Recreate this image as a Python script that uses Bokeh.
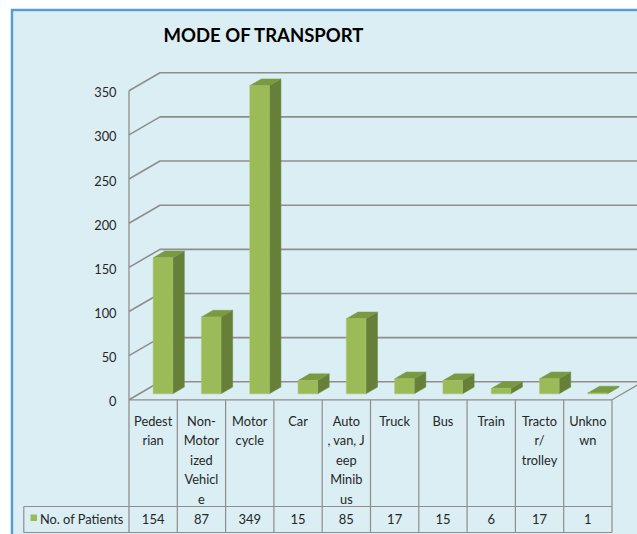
from bokeh.plotting import figure
from bokeh.models import Range1d
from bokeh.embed import file_html
from bokeh.resources import INLINE
from bokeh.core.properties import value

# ---- data ----
categories = ["Pedest\nrian", "Non-\nMotor\nized\nVehicl\ne", "Motor\ncycle", "Car",
              "Auto\n, van, J\neep\nMinib\nus", "Truck", "Bus", "Train",
              "Tracto\nr/\ntrolley", "Unkno\nwn"]
patients = [154, 87, 349, 15, 85, 17, 15, 6, 17, 1]
y_ticks = [0, 50, 100, 150, 200, 250, 300, 350]
series_name = "No. of Patients"
title_text = "MODE OF TRANSPORT"

# ---- layout constants (page pixels) ----
AX_PX, COL_PX = 128.5, 48.3
Y0_PX, V_PX = 399.3, 0.883
FL, FR, FT, FB = 13, 637, 11, 534

def dx(px):
    return (px - AX_PX) / COL_PX

def dy(py):
    return (Y0_PX - py) / V_PX

DEPTH_X, DEPTH_Y = 31 / COL_PX, 18 / V_PX
BAR_L, BAR_R = 0.50, 0.905
BAR_DX, BAR_DY = 11.6 / COL_PX, 6.7 / V_PX
BASE = 6.0 / V_PX

BG = "#DAEEF3"
GRID = "#8E8E8E"
FRONT, SIDE, TOP = "#9BBB59", "#66803A", "#7A9A42"
TXT = "#262626"
FONT = value("Lato")
FS = "12.8px"

n = len(categories)

p = figure(width=627, height=526, output_backend="svg", toolbar_location=None,
           x_range=Range1d(dx(FL), dx(FR)), y_range=Range1d(dy(FB), dy(FT)),
           x_axis_type=None, y_axis_type=None,
           min_border_left=3, min_border_top=3, min_border_right=0, min_border_bottom=0,
           background_fill_color=BG, border_fill_color="#5B9BD5",
           outline_line_color=None)
p.margin = (8, 0, 0, 10)
p.xgrid.visible = False
p.ygrid.visible = False

# ---- 3D gridlines (side wall + back wall) ----
x_right = dx(FR) + 1
gx = [[0, DEPTH_X, x_right] for t in y_ticks]
gy = [[t, t + DEPTH_Y, t + DEPTH_Y] for t in y_ticks]
p.multi_line(gx, gy, line_color=GRID, line_width=1.6)

# value axis line
p.segment(x0=[0], y0=[dy(532)], x1=[0], y1=[max(y_ticks)], line_color=GRID, line_width=1.3)
# floor front edge and right edge
p.segment(x0=[0, n], y0=[0, 0], x1=[n, n + DEPTH_X], y1=[0, DEPTH_Y],
          line_color=GRID, line_width=1.3)

# ---- bars ----
xs = list(range(n))
lefts = [i + BAR_L for i in xs]
rights = [i + BAR_R for i in xs]
tops = [v + BASE for v in patients]
side_x = [[r, r + BAR_DX, r + BAR_DX, r] for r in rights]
side_y = [[BASE, BASE + BAR_DY, t + BAR_DY, t] for t in tops]
top_x = [[l, r, r + BAR_DX, l + BAR_DX] for l, r in zip(lefts, rights)]
top_y = [[t, t, t + BAR_DY, t + BAR_DY] for t in tops]
p.patches(side_x, side_y, fill_color=SIDE, line_color=SIDE, line_width=0.5)
p.patches(top_x, top_y, fill_color=TOP, line_color=TOP, line_width=0.5)
p.quad(left=lefts, right=rights, bottom=[BASE] * n, top=tops,
       fill_color=FRONT, line_color="#A9C66A", line_width=0.5)

# ---- y tick labels ----
p.text(x=[dx(116)] * len(y_ticks), y=[t - 1.5 / V_PX for t in y_ticks],
       text=[str(t) for t in y_ticks], text_align="right", text_baseline="middle",
       text_font=FONT, text_font_size="12.8px", text_color=TXT)

# ---- data table ----
row_top, row_bot = dy(506), dy(532)
leg_left = dx(23.3)
p.segment(x0=[i for i in range(1, n + 1)], y0=[0] * n,
          x1=[i for i in range(1, n + 1)], y1=[row_bot] * n,
          line_color=GRID, line_width=1.2)
p.segment(x0=[leg_left, leg_left, leg_left], y0=[row_top, row_bot, row_top],
          x1=[n, n, leg_left], y1=[row_top, row_bot, row_bot],
          line_color=GRID, line_width=1.2)

lx, ly, lt = [], [], []
for i, c in enumerate(categories):
    for k, line in enumerate(c.split("\n")):
        lx.append(i + 0.5)
        ly.append(dy(420 + 19.6 * k))
        lt.append(line)
p.text(x=lx, y=ly, text=lt, text_align="center", text_baseline="middle",
       text_font=FONT, text_font_size=FS, text_color=TXT)

p.text(x=[i + 0.5 for i in xs], y=[dy(518.5)] * n, text=[str(v) for v in patients],
       text_align="center", text_baseline="middle",
       text_font=FONT, text_font_size="13px", text_color=TXT)

# legend key
p.quad(left=[dx(30)], right=[dx(36.5)], top=[dy(514)], bottom=[dy(520.5)],
       fill_color=FRONT, line_color=None)
p.text(x=[dx(39.5)], y=[dy(518)], text=[series_name], text_align="left",
       text_baseline="middle", text_font=FONT, text_font_size=FS, text_color=TXT)

# ---- title ----
p.text(x=[dx(263.5)], y=[dy(34.5)], text=[title_text], text_align="center",
       text_baseline="middle", text_font=FONT,
       text_font_size="18.5px", text_font_style="bold", text_color="#000000")

open("out.html", "w").write(file_html(p, INLINE))
